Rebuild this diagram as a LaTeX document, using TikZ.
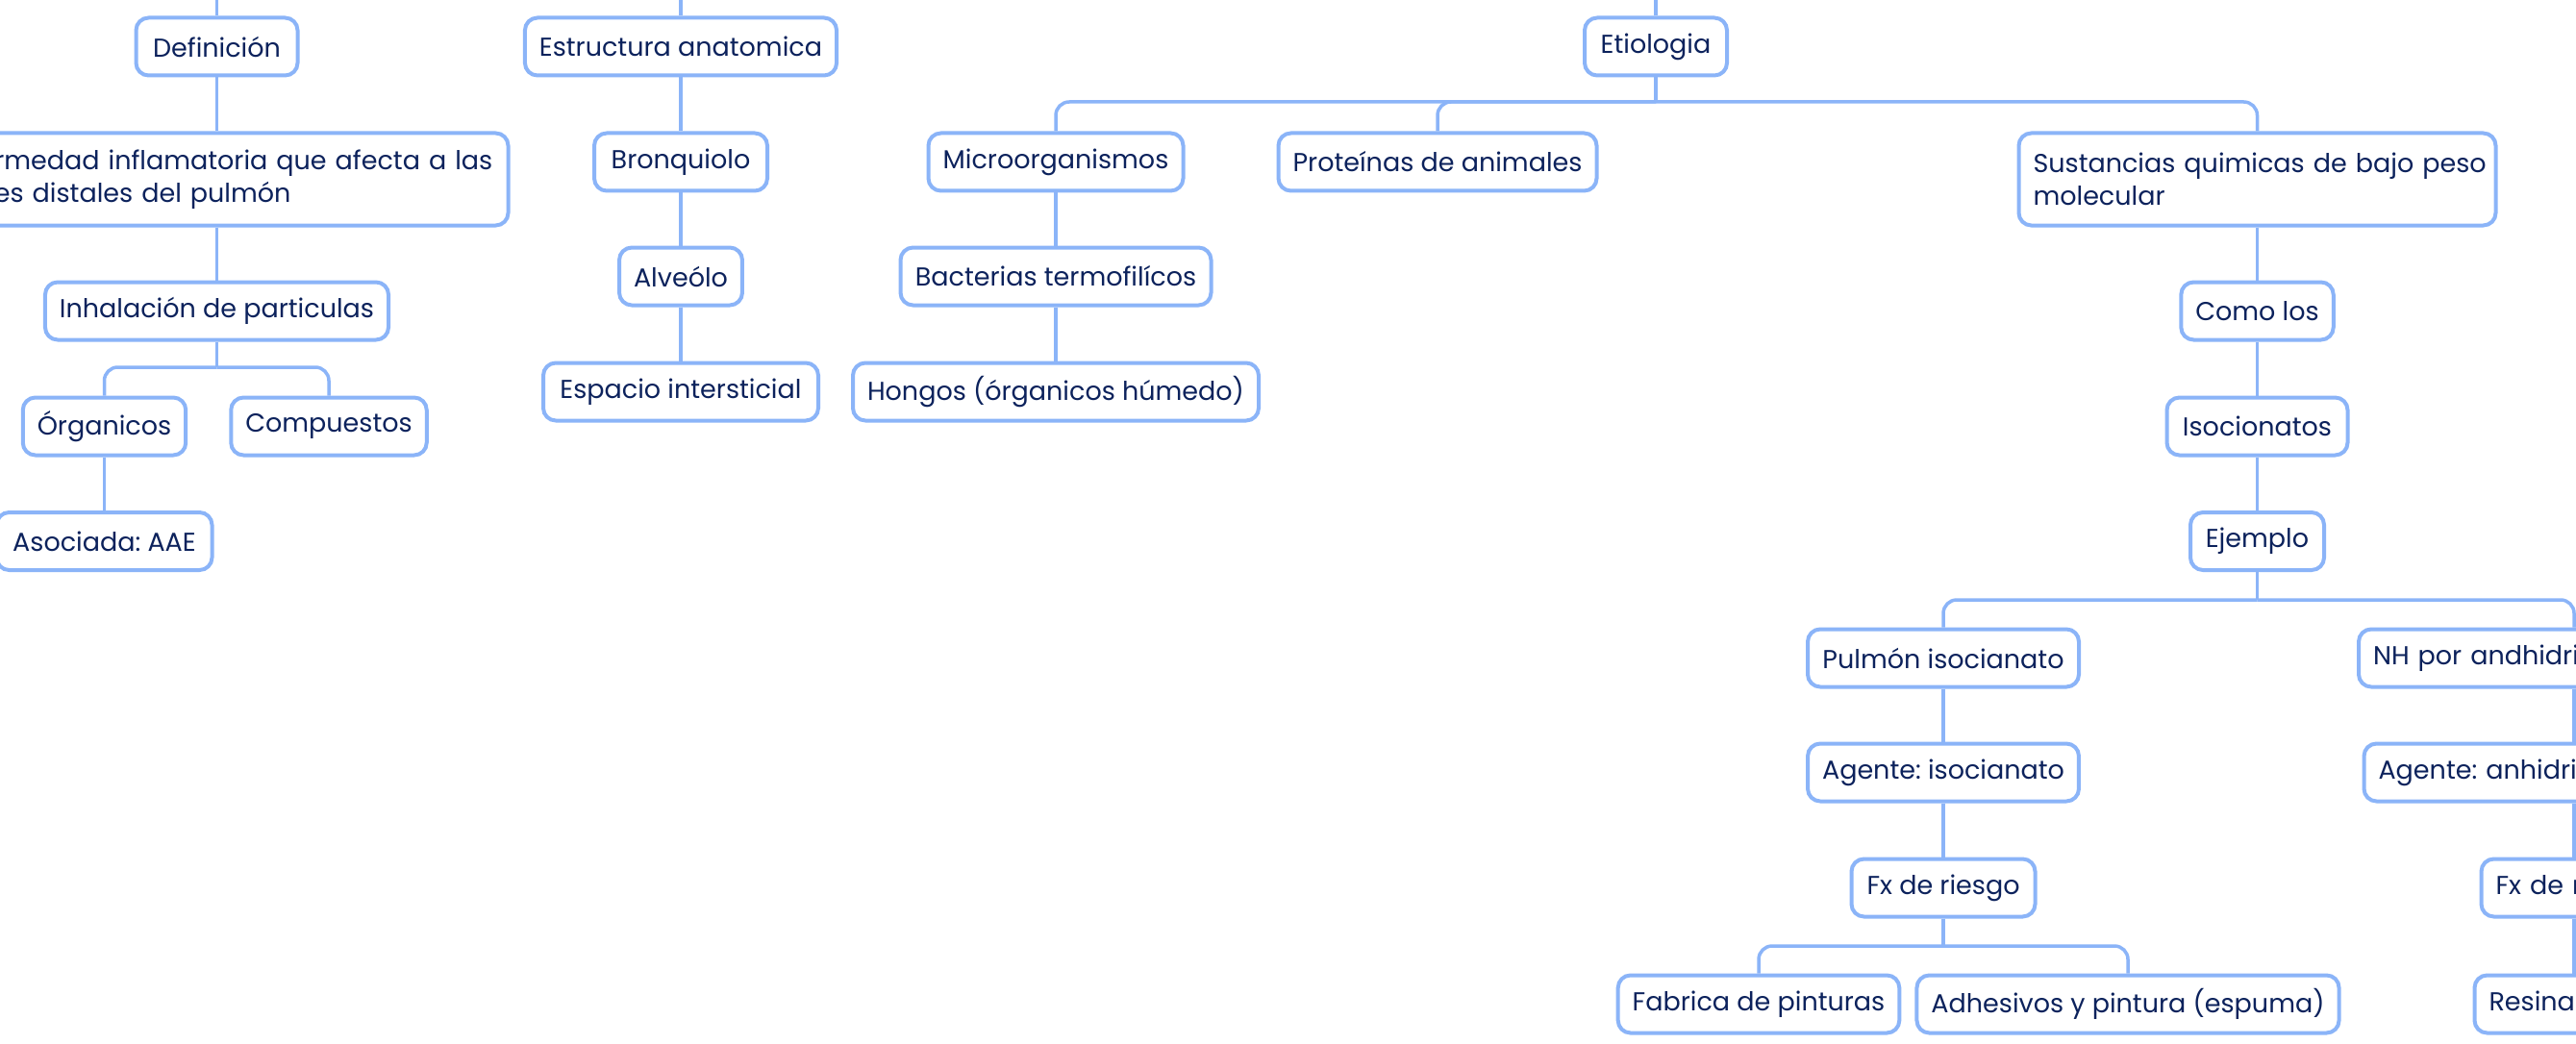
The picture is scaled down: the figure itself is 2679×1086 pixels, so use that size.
\documentclass[tikz,border=0pt]{standalone}
\usepackage{fontspec}
\setmainfont{Poppins}
\frenchspacing
\definecolor{bcol}{RGB}{139,180,248}
\definecolor{tcol}{RGB}{12,34,92}
\tikzset{
  mbox/.style={draw=bcol, line width=4pt, rounded corners=13pt, fill=white,
    text=tcol, minimum height=60pt, inner xsep=15pt, inner ysep=0pt,
    font=\fontsize{27}{34}\selectfont\frenchspacing, anchor=center},
  tbox/.style={mbox, minimum height=96pt, align=left},
  cbox/.style={mbox, align=left},
  conn/.style={draw=bcol, line width=3.5pt, rounded corners=14pt},
}
\begin{document}
\begin{tikzpicture}[x=1pt,y=-1pt]
\useasboundingbox (0,0) rectangle (2679,1086);
\fill[white] (0,0) rectangle (2679,1086);
\coordinate (tdef) at (225.5,0);
\coordinate (test) at (708,0);
\coordinate (teti) at (1722,0);
% nodes
\node[mbox, minimum width=168pt] (def) at (225.5,48.5) {Definición};
\node[tbox, minimum width=606pt, text width=576pt] (enf) at (225.5,186.5) {\mbox{Enfermedad inflamatoria que afecta a las}\\\mbox{partes distales del pulmón}};
\node[mbox, minimum width=356pt] (inh) at (225.5,323.5) {Inhalación de particulas};
\node[mbox, minimum width=166pt] (org) at (108.5,443.5) {Órganicos};
\node[mbox, minimum width=199pt] (comp) at (342,443.5) {Compuestos};
\node[mbox, minimum width=224pt] (aso) at (108.5,563) {Asociada: AAE};
\node[mbox, minimum width=323pt] (est) at (708,48.5) {Estructura anatomica};
\node[mbox, minimum width=180pt] (bro) at (708,168.5) {Bronquiolo};
\node[mbox, minimum width=127pt] (alv) at (708,287.5) {Alveólo};
\node[mbox, minimum width=286pt] (esp) at (708,407.5) {Espacio intersticial};
\node[mbox, minimum width=148pt] (eti) at (1722,48.5) {Etiologia};
\node[mbox, minimum width=265pt] (mic) at (1098,168.5) {Microorganismos};
\node[mbox, minimum width=331pt] (pro) at (1495,168.5) {Proteínas de animales};
\node[tbox, minimum width=496pt, text width=466pt] (sus) at (2347.5,186.5) {\mbox{Sustancias quimicas de bajo peso}\\\mbox{molecular}};
\node[mbox, minimum width=323pt] (bac) at (1098,287.5) {Bacterias termofilícos};
\node[mbox, minimum width=417pt] (hon) at (1098,407.5) {Hongos (órganicos húmedo)};
\node[mbox, minimum width=152pt] (com) at (2347.5,323.5) {Como los};
\node[mbox, minimum width=188pt] (iso) at (2347.5,443.5) {Isocionatos\hspace{8pt}};
\node[mbox, minimum width=139pt] (eje) at (2347.5,563) {Ejemplo};
\node[mbox, minimum width=282pt] (pul) at (2021,684.5) {Pulmón isocianato};
\node[cbox, minimum width=448pt, text width=418pt] (nh) at (2677,684.5) {\mbox{NH por andhidridos ácidos}};
\node[mbox, minimum width=280pt] (agi) at (2021,803.5) {Agente: isocianato};
\node[cbox, minimum width=437pt, text width=407pt] (aga) at (2677,803.5) {\mbox{Agente: anhidridos ácidos}};
\node[mbox, minimum width=191pt] (fxi) at (2021,923.5) {Fx de riesgo};
\node[cbox, minimum width=193pt, text width=163pt] (fxa) at (2677,923.5) {\mbox{Fx de riesgo}};
\node[mbox, minimum width=289pt] (fab) at (1829,1044.5) {Fabrica de pinturas};
\node[mbox, minimum width=431pt] (adh) at (2213,1044.5) {Adhesivos y pintura (espuma)};
\node[cbox, minimum width=207pt, text width=177pt] (res) at (2677,1044.5) {\mbox{Resinas epoxi}};
% bar coordinates
\coordinate (binh) at (225.5,382);
\coordinate (beti) at (1722,106);
\coordinate (beje) at (2347.5,624);
\coordinate (bfxi) at (2021,984);
% connectors
\draw[conn] (tdef) -- (def.north);
\draw[conn] (test) -- (est.north);
\draw[conn] (teti) -- (eti.north);
\draw[conn] (def.south) -- (enf.north);
\draw[conn] (enf.south) -- (inh.north);
\draw[conn] (inh.south) -- (binh);
\draw[conn] (binh) -| (org.north);
\draw[conn] (binh) -| (comp.north);
\draw[conn] (org.south) -- (aso.north);
\draw[conn] (est.south) -- (bro.north);
\draw[conn] (bro.south) -- (alv.north);
\draw[conn] (alv.south) -- (esp.north);
\draw[conn] (eti.south) -- (beti);
\draw[conn] (beti) -| (mic.north);
\draw[conn] (beti) -| (pro.north);
\draw[conn] (beti) -| (sus.north);
\draw[conn] (mic.south) -- (bac.north);
\draw[conn] (bac.south) -- (hon.north);
\draw[conn] (sus.south) -- (com.north);
\draw[conn] (com.south) -- (iso.north);
\draw[conn] (iso.south) -- (eje.north);
\draw[conn] (eje.south) -- (beje);
\draw[conn] (beje) -| (pul.north);
\draw[conn] (beje) -| (nh.north);
\draw[conn] (pul.south) -- (agi.north);
\draw[conn] (agi.south) -- (fxi.north);
\draw[conn] (fxi.south) -- (bfxi);
\draw[conn] (bfxi) -| (fab.north);
\draw[conn] (bfxi) -| (adh.north);
\draw[conn] (nh.south) -- (aga.north);
\draw[conn] (aga.south) -- (fxa.north);
\draw[conn] (fxa.south) -- (res.north);
\end{tikzpicture}
\end{document}
